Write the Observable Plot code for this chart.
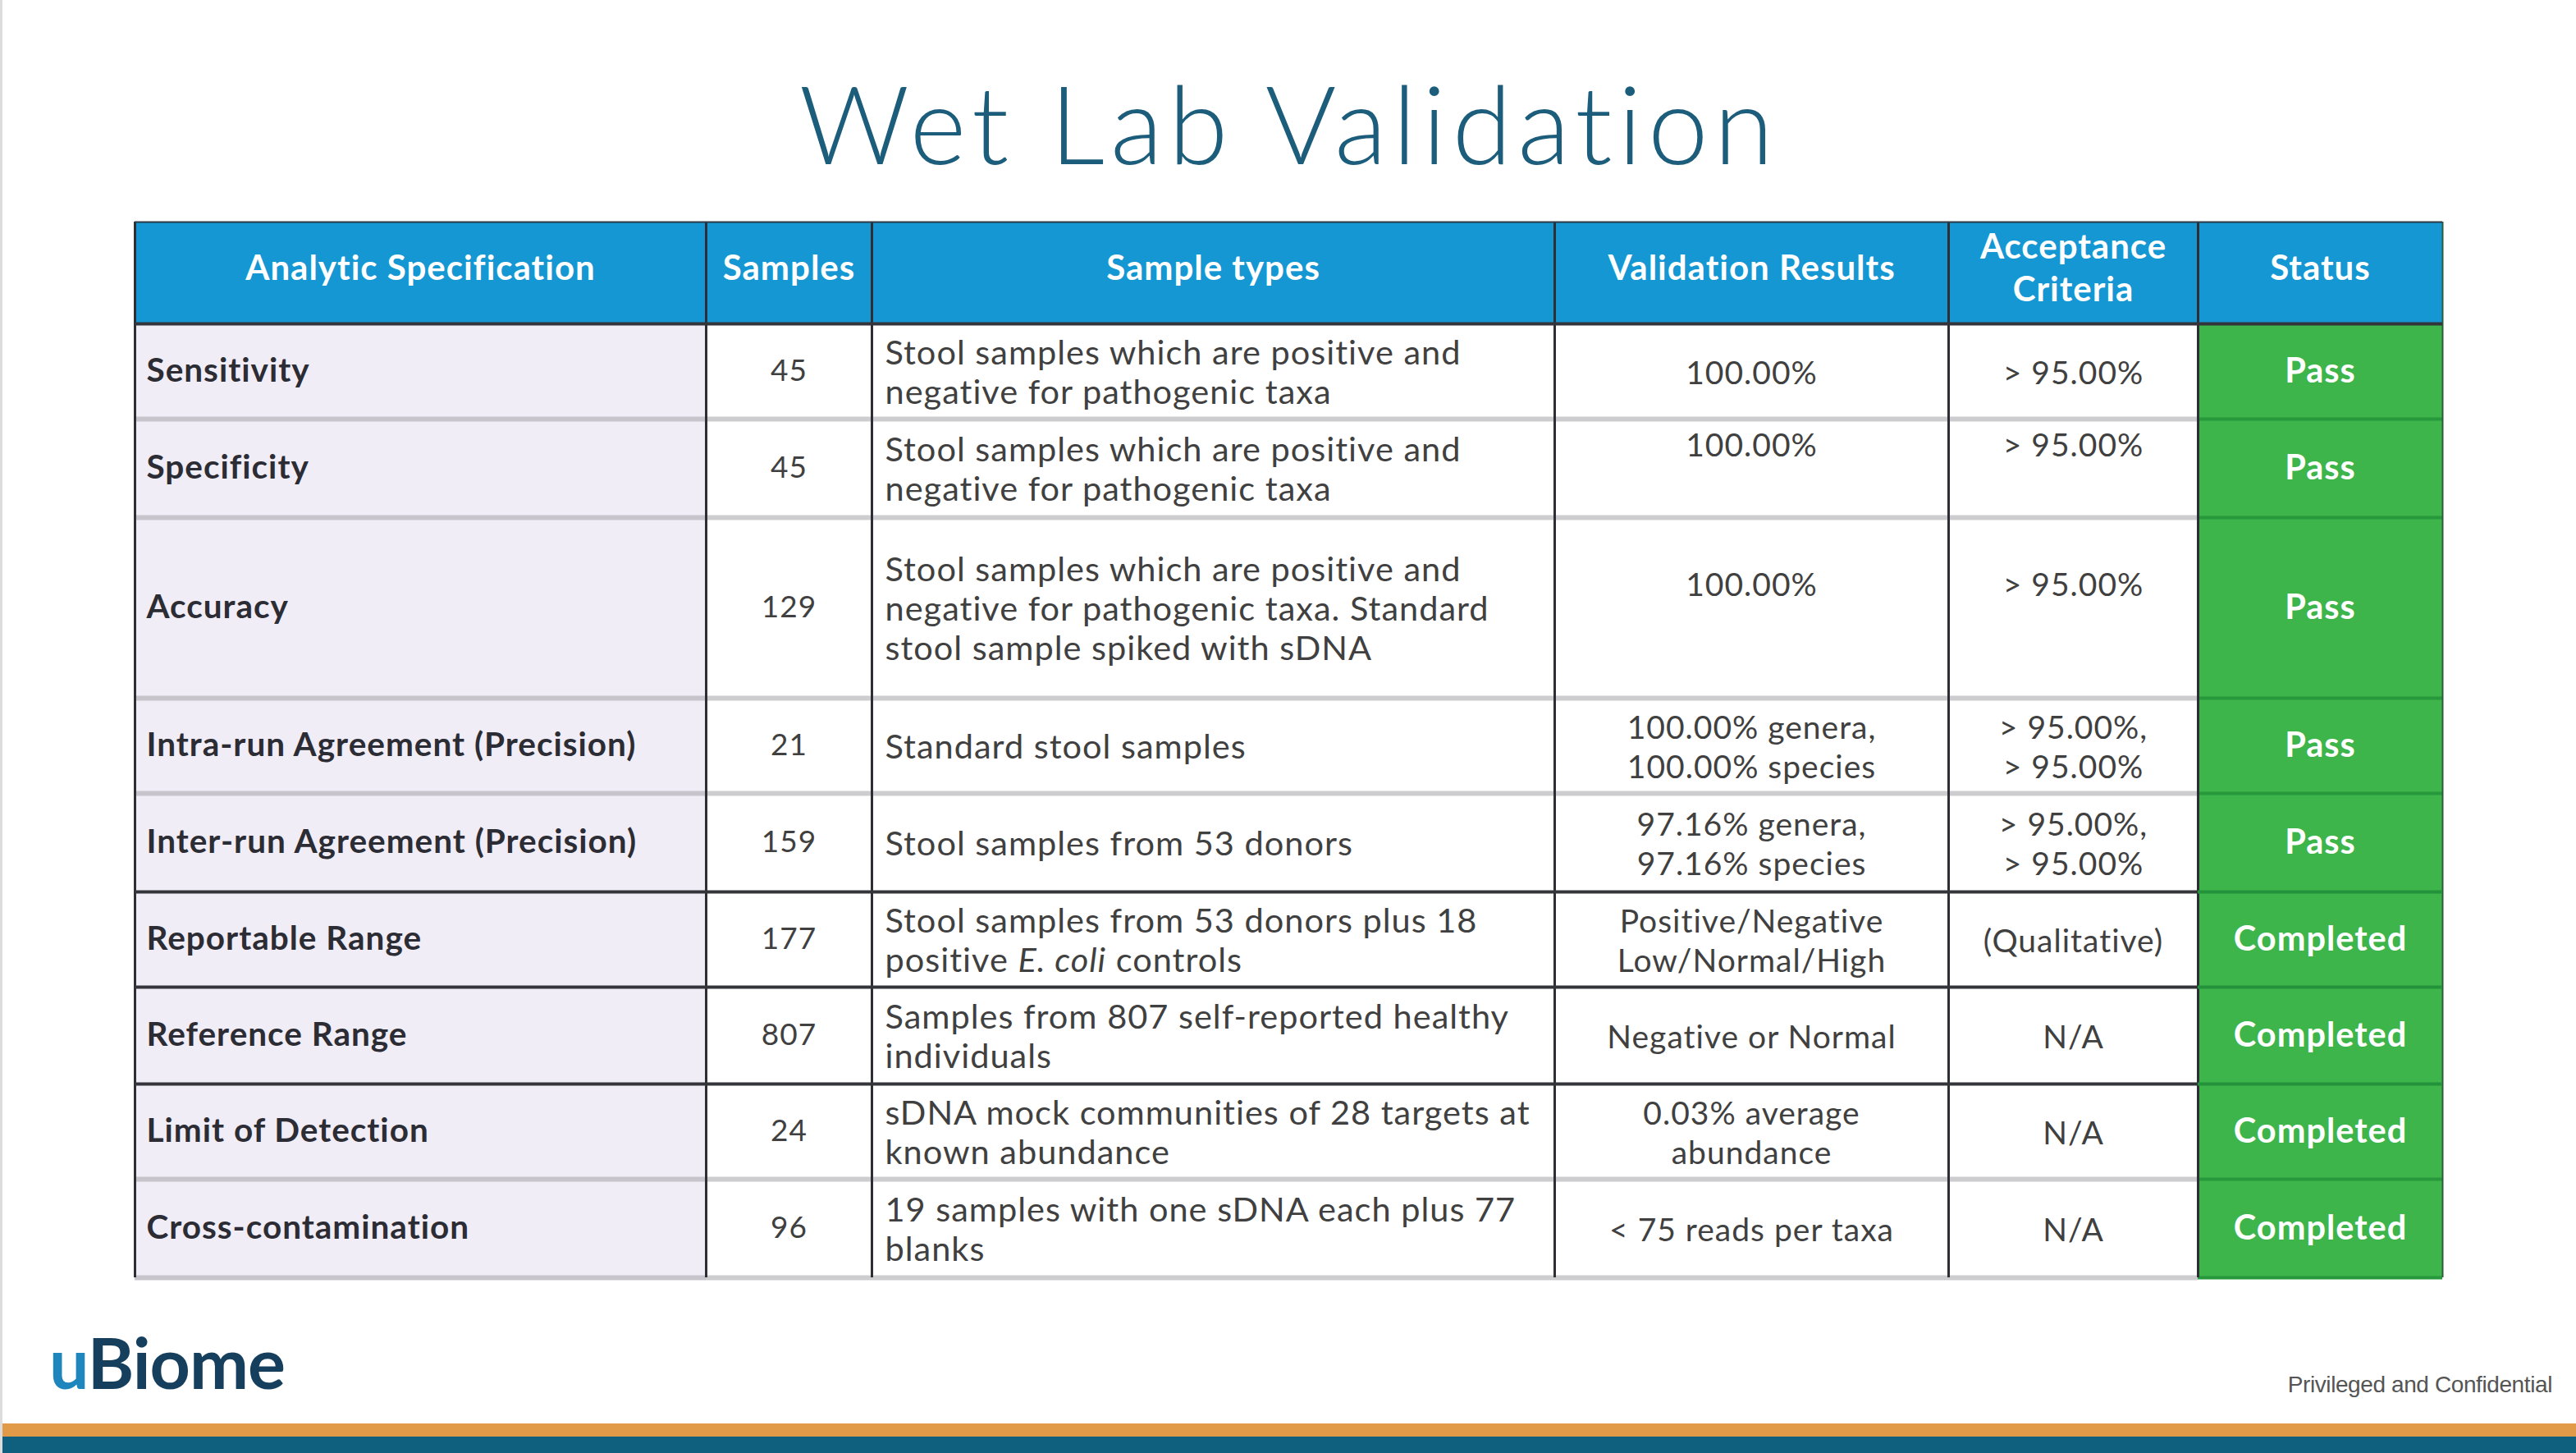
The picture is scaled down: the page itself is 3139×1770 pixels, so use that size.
<!DOCTYPE html>
<html><head><meta charset="utf-8">
<script src="https://cdn.jsdelivr.net/npm/d3@7"></script>
<script src="https://cdn.jsdelivr.net/npm/@observablehq/plot@0.6"></script>
<style>
html,body{margin:0;padding:0;background:#fff;}
#slide{position:relative;width:3139px;height:1770px;overflow:hidden;background:#fff;font-family:Lato,"Open Sans",sans-serif;border-left:3px solid #dcdcdc;box-sizing:border-box;}
#title{position:absolute;left:0;top:83px;width:3136px;text-align:center;font-size:132px;line-height:1;font-weight:300;color:#1c5d7b;letter-spacing:7px;font-variant-ligatures:none;font-feature-settings:"liga" 0;}
#table{position:absolute;left:-3px;top:262px}
#table svg{font-variant-ligatures:none;}
#logo{position:absolute;left:57px;top:1616px;font-size:86px;line-height:1;font-weight:700;color:#163f5e;letter-spacing:-1px}
#logo .u{color:#1f86bd}
#conf{position:absolute;right:29px;top:1671px;font-family:"Liberation Sans",Arial,sans-serif;font-size:28px;color:#555;letter-spacing:-0.4px}
#band1{position:absolute;left:0;top:1734px;width:3139px;height:16px;background:#e19a47}
#band2{position:absolute;left:0;top:1750px;width:3139px;height:20px;background:#0f5f7e}
</style>
</head><body>
<div id="slide">
  <div id="title">Wet Lab Validation</div>
  <div id="table"></div>
  <div id="logo"><span class="u">u</span>Biome</div>
  <div id="conf">Privileged and Confidential</div>
  <div id="band1"></div>
  <div id="band2"></div>
</div>
<script>
// ---------- data ----------
const headers = ["Analytic Specification", "Samples", "Sample types", "Validation Results", "Acceptance\nCriteria", "Status"];
const specs = ["Sensitivity", "Specificity", "Accuracy", "Intra-run Agreement (Precision)", "Inter-run Agreement (Precision)", "Reportable Range", "Reference Range", "Limit of Detection", "Cross-contamination"];
const samples = [45, 45, 129, 21, 159, 177, 807, 24, 96];
const sampleTypes = [
  "Stool samples which are positive and\nnegative for pathogenic taxa",
  "Stool samples which are positive and\nnegative for pathogenic taxa",
  "Stool samples which are positive and\nnegative for pathogenic taxa. Standard\nstool sample spiked with sDNA",
  "Standard stool samples",
  "Stool samples from 53 donors",
  "Stool samples from 53 donors plus 18\npositive _E. coli_ controls",
  "Samples from 807 self-reported healthy\nindividuals",
  "sDNA mock communities of 28 targets at\nknown abundance",
  "19 samples with one sDNA each plus 77\nblanks"
];
const results = [
  "100.00%", "100.00%", "100.00%",
  "100.00% genera,\n100.00% species",
  "97.16% genera,\n97.16% species",
  "Positive/Negative\nLow/Normal/High",
  "Negative or Normal",
  "0.03% average\nabundance",
  "< 75 reads per taxa"
];
const criteria = ["> 95.00%", "> 95.00%", "> 95.00%", "> 95.00%,\n> 95.00%", "> 95.00%,\n> 95.00%", "(Qualitative)", "N/A", "N/A", "N/A"];
const status = ["Pass", "Pass", "Pass", "Pass", "Pass", "Completed", "Completed", "Completed", "Completed"];

// ---------- layout (sizes & styles) ----------
const colWidths = [696, 202, 832, 480, 304, 298];
const headerHeight = 124;
const rowHeights = [116, 120, 220, 116, 120, 116, 118, 116, 120];
const resultShift = [0, -30, -30, 0, 0, 0, 0, 0, 0];
const headerShift = -8;
const lineKinds = ["top", "dark", "grey", "grey", "grey", "grey", "dark", "dark", "dark", "grey", "grey"];
const colFills = ["#f1edf6", "#ffffff", "#ffffff", "#ffffff", "#ffffff", "#3db54b"];
const headerFill = "#1597d3";

const colX = Array.from(d3.cumsum([0, ...colWidths]));
const rowY = Array.from(d3.cumsum([0, headerHeight, ...rowHeights]));
const totalW = colX[colX.length - 1];
const totalH = rowY[rowY.length - 1];

const columns = [specs, samples.map(String), sampleTypes, results, criteria, status];

const headerCells = headers.map((t, c) => ({
  c, text: t, x1: colX[c], x2: colX[c + 1], y1: rowY[0], y2: rowY[1], cy: (rowY[0] + rowY[1]) / 2 + headerShift
}));
const bodyCells = [];
specs.forEach((_, r) => {
  columns.forEach((col, c) => {
    const y1 = rowY[r + 1], y2 = rowY[r + 2];
    const shift = (c === 3 || c === 4) ? resultShift[r] : 0;
    bodyCells.push({r, c, text: col[r], x1: colX[c], x2: colX[c + 1], y1, y2, cy: (y1 + y2) / 2 + shift});
  });
});

// horizontal divider segments
const hLines = [];
lineKinds.forEach((kind, k) => {
  colWidths.forEach((_, c) => {
    let stroke, sw;
    if (kind === "top") { stroke = "#2b3a44"; sw = 2; }
    else if (kind === "dark") { stroke = c === 5 && k > 1 ? "#23923a" : "#34353b"; sw = 4; }
    else { stroke = c === 5 ? "#27983c" : (c === 0 ? "#c7c4cc" : "#cdcdd0"); sw = c === 5 ? 4 : 6; }
    hLines.push({y: rowY[k], x1: colX[c], x2: colX[c + 1], stroke, sw, kind});
  });
});
const vLines = colX.map((x, i) => ({x, stroke: i === colX.length - 1 ? "#2f5a3c" : "#2e2f35", sw: i === colX.length - 1 ? 2 : 3}));

const W = 3139, H = 1302, mL = 164, mT = 8;
const plot = Plot.plot({
  width: W, height: H,
  marginLeft: mL, marginRight: W - mL - totalW, marginTop: mT, marginBottom: H - mT - totalH,
  x: {domain: [0, totalW], axis: null},
  y: {domain: [0, totalH], reverse: true, axis: null},
  style: {background: "transparent", overflow: "visible", letterSpacing: "1px"},
  marks: [
    Plot.rect(headerCells, {x1: "x1", x2: "x2", y1: "y1", y2: "y2", fill: headerFill}),
    Plot.rect(bodyCells, {x1: "x1", x2: "x2", y1: "y1", y2: "y2", fill: d => colFills[d.c]}),
    Plot.ruleY(hLines.filter(d => d.kind === "grey"), {y: "y", x1: "x1", x2: "x2", stroke: d => d.stroke, strokeWidth: d => d.sw}),
    Plot.ruleX(vLines, {x: "x", y1: 0, y2: totalH, stroke: d => d.stroke, strokeWidth: d => d.sw}),
    Plot.ruleY(hLines.filter(d => d.kind !== "grey"), {y: "y", x1: "x1", x2: "x2", stroke: d => d.stroke, strokeWidth: d => d.sw}),
    // header text
    Plot.text(headerCells, {x: d => (d.x1 + d.x2) / 2, y: "cy", text: "text",
      fill: "#ffffff", fontWeight: 700, fontSize: 42, lineHeight: 1.24, fontFamily: "Lato", lineAnchor: "middle"}),
    // first column (bold, left)
    Plot.text(bodyCells.filter(d => d.c === 0), {x: "x1", y: "cy", text: "text", dx: 14, textAnchor: "start",
      fill: "#2c2c34", fontWeight: 700, fontSize: 40.5, fontFamily: "Lato", lineAnchor: "middle"}),
    // samples (centered)
    Plot.text(bodyCells.filter(d => d.c === 1), {x: d => (d.x1 + d.x2) / 2, y: "cy", text: "text",
      fill: "#404040", fontSize: 37, fontFamily: "Lato", lineAnchor: "middle"}),
    // sample types (left)
    Plot.text(bodyCells.filter(d => d.c === 2), {x: "x1", y: "cy", text: "text", dx: 16, textAnchor: "start",
      fill: "#404040", fontSize: 41.5, lineHeight: 1.157, fontFamily: "Lato", lineAnchor: "middle"}),
    // results & criteria (centered)
    Plot.text(bodyCells.filter(d => d.c === 3 || d.c === 4), {x: d => (d.x1 + d.x2) / 2, y: "cy", text: "text",
      fill: "#404040", fontSize: 39, lineHeight: 1.23, fontFamily: "Lato", lineAnchor: "middle"}),
    // status
    Plot.text(bodyCells.filter(d => d.c === 5), {x: d => (d.x1 + d.x2) / 2, y: "cy", text: "text",
      fill: "#ffffff", fontWeight: 700, fontSize: 41.5, fontFamily: "Lato", lineAnchor: "middle"})
  ]
});

// italicise _..._ segments (E. coli)
plot.querySelectorAll("text, tspan").forEach(el => {
  if (el.children.length === 0 && el.textContent.includes("_")) {
    const parts = el.textContent.split("_");
    el.textContent = "";
    parts.forEach((p, i) => {
      const t = document.createElementNS("http://www.w3.org/2000/svg", "tspan");
      t.textContent = p;
      if (i % 2 === 1) t.setAttribute("font-style", "italic");
      el.appendChild(t);
    });
  }
});

document.getElementById("table").appendChild(plot);
</script>
</body></html>
